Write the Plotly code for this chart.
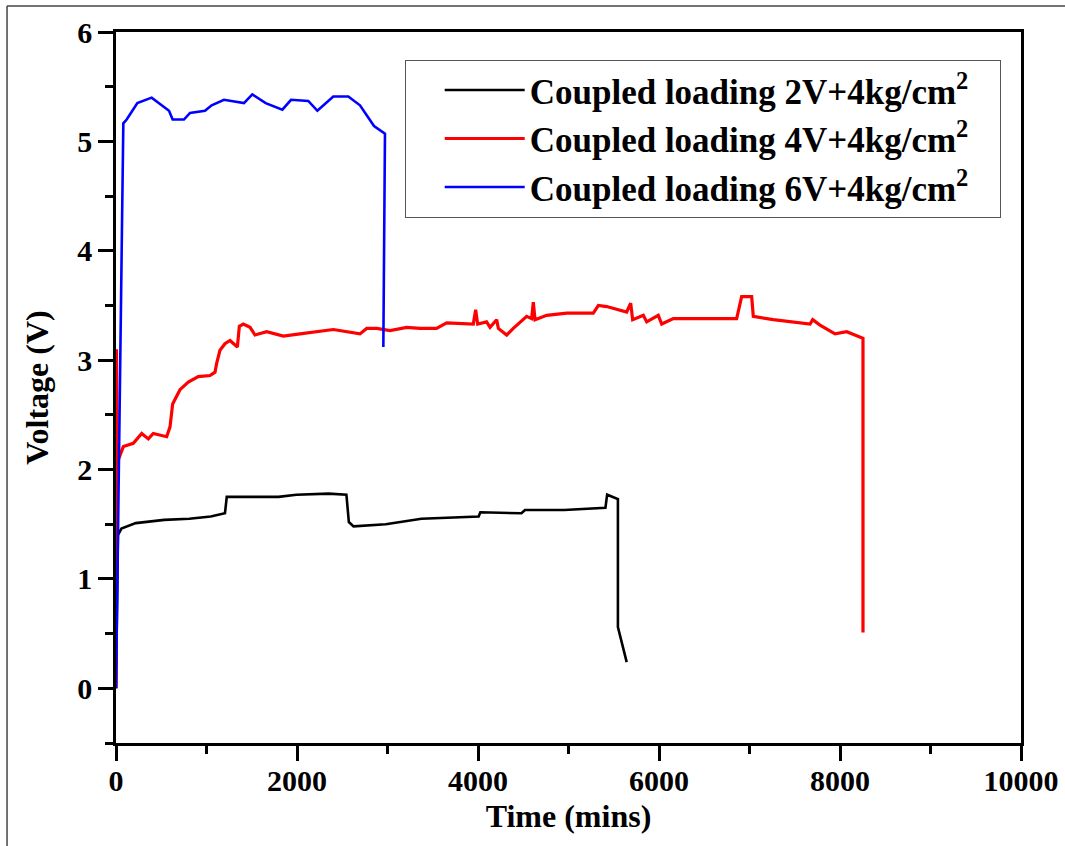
import plotly.graph_objects as go

# ---- data ----
black_x = [0, 21, 60, 218, 533, 810, 1046, 1204, 1224, 1481, 1796, 1993, 2349, 2546, 2573,
           2625, 2980, 3375, 4007, 4026, 4480, 4519, 4953, 5408, 5427, 5546, 5546, 5643]
black_y = [0, 1.40, 1.46, 1.51, 1.54, 1.55, 1.57, 1.60, 1.75, 1.75, 1.75, 1.77, 1.78, 1.77, 1.52,
           1.48, 1.50, 1.55, 1.57, 1.61, 1.60, 1.63, 1.63, 1.65, 1.77, 1.73, 0.56, 0.24]

red_x = [0, 5, 15, 26, 81, 191, 284, 357, 412, 560, 597, 626, 707, 799, 909, 1039, 1094, 1112,
         1149, 1204, 1260, 1315, 1341, 1363, 1407, 1481, 1536, 1665, 1849, 2033, 2401, 2696, 2770,
         2880, 3028, 3212, 3359, 3542, 3654, 3948, 3974, 3996, 4095, 4133, 4206, 4225, 4317, 4390,
         4538, 4593, 4611, 4630, 4759, 4980, 5274, 5330, 5422, 5643, 5687, 5709, 5827, 5864, 5992,
         6030, 6158, 6416, 6858, 6913, 7024, 7042, 7263, 7669, 7698, 7779, 7945, 8074, 8240, 8254,
         8254]
red_y = [0, 3.10, 2.00, 2.09, 2.21, 2.24, 2.33, 2.28, 2.33, 2.30, 2.39, 2.60, 2.73, 2.80, 2.85,
         2.86, 2.89, 2.97, 3.09, 3.15, 3.18, 3.14, 3.12, 3.31, 3.33, 3.30, 3.23, 3.26, 3.22, 3.24,
         3.28, 3.24, 3.29, 3.29, 3.27, 3.30, 3.29, 3.29, 3.34, 3.33, 3.46, 3.33, 3.35, 3.30, 3.37,
         3.29, 3.23, 3.29, 3.40, 3.38, 3.53, 3.37, 3.41, 3.43, 3.43, 3.50, 3.49, 3.44, 3.52, 3.37,
         3.41, 3.35, 3.41, 3.33, 3.38, 3.38, 3.38, 3.58, 3.58, 3.40, 3.37, 3.33, 3.37, 3.32, 3.24,
         3.26, 3.21, 3.20, 0.51]

blue_x = [0, 81, 118, 236, 394, 586, 626, 751, 818, 983, 1057, 1193, 1414, 1506, 1654, 1838,
          1934, 2125, 2225, 2401, 2567, 2696, 2851, 2972, 2954]
blue_y = [0, 5.165, 5.20, 5.35, 5.40, 5.28, 5.20, 5.20, 5.26, 5.28, 5.33, 5.38, 5.35, 5.43, 5.35,
          5.29, 5.38, 5.37, 5.28, 5.41, 5.41, 5.33, 5.14, 5.07, 3.12]

names = ["Coupled loading 2V+4kg/cm<sup>2</sup>",
         "Coupled loading 4V+4kg/cm<sup>2</sup>",
         "Coupled loading 6V+4kg/cm<sup>2</sup>"]
colors = ["#000000", "#ff0000", "#0000ff"]

x_ticks = [0, 2000, 4000, 6000, 8000, 10000]
y_ticks = [0, 1, 2, 3, 4, 5, 6]

FONT = "Liberation Serif"

fig = go.Figure()
for i, (xs, ys, w) in enumerate([(black_x, black_y, 2.6), (red_x, red_y, 3.2), (blue_x, blue_y, 2.6)]):
    fig.add_trace(go.Scatter(x=xs, y=ys, mode="lines",
                             name=names[i] + "&nbsp;&nbsp;&nbsp;",
                             line=dict(color=colors[i], width=w)))

axis_common = dict(
    showline=True, linecolor="black", linewidth=2.5, mirror=True,
    ticks="outside", tickcolor="black", tickwidth=2.5, ticklen=15,
    showgrid=False, zeroline=False, automargin=False,
    tickfont=dict(family=FONT, size=30, color="black", weight="bold"),
    title_font=dict(family=FONT, size=32, color="black", weight="bold"),
)

fig.update_xaxes(range=[0, 10000], tickvals=x_ticks, tickformat="d",
                 ticklabelstandoff=-6,
                 minor=dict(dtick=1000, ticks="outside", ticklen=8, tickwidth=2.5, tickcolor="black"),
                 title_text="Time (mins)", title_standoff=9, **axis_common)
fig.update_yaxes(range=[-0.5, 6], tickvals=y_ticks, tickformat="d",
                 minor=dict(dtick=0.5, ticks="outside", ticklen=8, tickwidth=2.5, tickcolor="black"),
                 title_text="Voltage (V)", title_standoff=20, **axis_common)

fig.update_layout(
    width=1065, height=846,
    margin=dict(l=116, r=44, t=32, b=103),
    plot_bgcolor="white", paper_bgcolor="white",
    font=dict(family=FONT, color="black"),
    legend=dict(x=0.319, y=0.961, xanchor="left", yanchor="top",
                bordercolor="#555555", borderwidth=1, bgcolor="white",
                font=dict(family=FONT, size=35, color="black", weight="bold"),
                itemwidth=80, indentation=34, traceorder="normal"),
    showlegend=True,
)

# outer image frame (left and top edges)
fig.add_shape(type="line", xref="paper", yref="paper", x0=-0.1204, x1=-0.1204, y0=-0.15, y1=1.0366,
              line=dict(color="#444444", width=1.5))
fig.add_shape(type="line", xref="paper", yref="paper", x0=-0.1204, x1=1.06, y0=1.0366, y1=1.0366,
              line=dict(color="#444444", width=1.5))

fig.write_html("out.html", config={"displayModeBar": False},
               post_script="document.body.style.margin='0';document.body.style.overflow='hidden';")
